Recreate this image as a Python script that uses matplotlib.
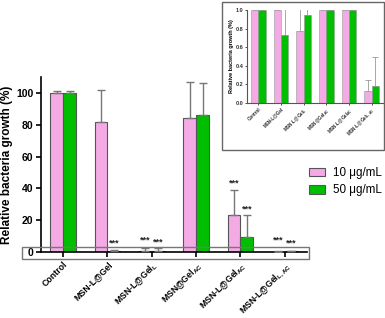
import matplotlib
matplotlib.use("Agg")
import matplotlib.pyplot as plt
from matplotlib.patches import Rectangle
import numpy as np

plt.rcParams['font.family'] = ['Liberation Sans', 'DejaVu Sans']
plt.rcParams['mathtext.fontset'] = 'custom'
plt.rcParams['mathtext.rm'] = 'Liberation Sans'
plt.rcParams['mathtext.bf'] = 'Liberation Sans:bold'

categories = ["Control", "MSN-L@Gel", r"MSN-L@Gel$_\mathbf{L}$", r"MSN@Gel$_\mathbf{AC}$",
              r"MSN-L@Gel$_\mathbf{AC}$", r"MSN-L@Gel$_\mathbf{L,AC}$"]
series_names = ["10 μg/mL", "50 μg/mL"]
vals_10 = [100, 81.5, 0.5, 84, 23.5, 0.2]
err_10 = [1, 20, 2, 23, 15.5, 0.2]
vals_50 = [100, 0.6, 0.5, 86, 9.5, 0.5]
err_50 = [1, 0.4, 1.8, 20, 13.5, 0.3]
stars_10 = [False, False, True, False, True, True]
stars_50 = [False, True, True, False, True, True]

inset_10 = [1.0, 1.0, 0.77, 1.0, 1.0, 0.13]
inset_err_10 = [0.3, 0.3, 0.3, 0.3, 0.3, 0.12]
inset_50 = [1.0, 0.73, 0.95, 1.0, 1.0, 0.18]
inset_err_50 = [0.3, 0.3, 0.3, 0.3, 0.3, 0.32]

pink = '#F4AAE4'
green = '#00BE00'
edge = '#555555'

fig = plt.figure(figsize=(3.85, 3.18), dpi=100)
ax = fig.add_axes([0.1065, 0.2075, 0.6905, 0.5505])
x = np.arange(len(categories))
w = 0.29
ax.bar(x - w/2, vals_10, w, color=pink, edgecolor=edge, linewidth=0.8, label=series_names[0], zorder=2)
ax.bar(x + w/2, vals_50, w, color=green, edgecolor=edge, linewidth=0.8, label=series_names[1], zorder=2)
ax.errorbar(x - w/2, vals_10, yerr=[np.zeros(6), err_10], fmt='none', ecolor='#777777',
            elinewidth=1, capsize=3, capthick=1, zorder=3)
ax.errorbar(x + w/2, vals_50, yerr=[np.zeros(6), err_50], fmt='none', ecolor='#777777',
            elinewidth=1, capsize=3, capthick=1, zorder=3)
for i in range(len(categories)):
    if stars_10[i]:
        ax.text(x[i] - w/2, max(vals_10[i] + err_10[i], 3) + 1.5, '***', ha='center', va='bottom',
                fontsize=6.5, fontweight='bold', color='#222222')
    if stars_50[i]:
        ax.text(x[i] + w/2, max(vals_50[i] + err_50[i], 2) + 1.0, '***', ha='center', va='bottom',
                fontsize=6.5, fontweight='bold', color='#222222')

ax.set_xlim(-0.5, 5.5)
ax.set_ylim(0, 110)
ax.set_yticks([0, 20, 40, 60, 80, 100])
ax.set_xticks(x)
ax.set_xticklabels(categories, rotation=45, ha='right', rotation_mode='anchor',
                   fontsize=6.3, fontweight='bold')
for lbl in ax.get_yticklabels():
    lbl.set_fontweight('bold')
    lbl.set_fontsize(7.5)
ax.spines['top'].set_visible(False)
ax.spines['right'].set_visible(False)
ax.spines['left'].set_linewidth(1.2)
ax.spines['bottom'].set_linewidth(1.2)
ax.tick_params(axis='both', width=1.2, length=3.5, pad=2)
ax.set_ylabel('Relative bacteria growth (%)', fontsize=8.5, fontweight='bold', labelpad=2)

rect = Rectangle((-0.93, -4.4), 6.48, 7.5, fill=False, edgecolor='#777777', linewidth=1.0,
                 clip_on=False, zorder=5)
ax.add_patch(rect)

leg = ax.legend(loc='upper left', bbox_to_anchor=(1.0075, 0.485), frameon=False, fontsize=8.4,
                handlelength=1.4, handleheight=0.75, handletextpad=0.7, labelspacing=0.45,
                borderaxespad=0, borderpad=0)

# inset
fig.add_artist(Rectangle((222/385, 1 - 150/318), (384 - 222)/385, (148)/318, fill=False,
                         edgecolor='#666666', linewidth=1.0, transform=fig.transFigure))
axi = fig.add_axes([247/385, 1 - 103/318, (383 - 247)/385, 93/318])
wi = 0.32
axi.bar(x - wi/2, inset_10, wi, color=pink, edgecolor='#999999', linewidth=0.4, zorder=2)
axi.bar(x + wi/2, inset_50, wi, color=green, edgecolor='#999999', linewidth=0.4, zorder=2)
axi.errorbar(x - wi/2, inset_10, yerr=[np.zeros(6), inset_err_10], fmt='none', ecolor='#999999',
             elinewidth=0.6, capsize=2, capthick=0.6, zorder=1)
axi.errorbar(x + wi/2, inset_50, yerr=[np.zeros(6), inset_err_50], fmt='none', ecolor='#999999',
             elinewidth=0.6, capsize=2, capthick=0.6, zorder=1)
axi.set_xlim(-0.5, 5.5)
axi.set_ylim(0, 1.0)
axi.set_yticks([0, 0.2, 0.4, 0.6, 0.8, 1.0])
axi.set_yticklabels(['0.0', '0.2', '0.4', '0.6', '0.8', '1.0'], fontsize=4, fontweight='bold')
axi.set_xticks(x)
axi.set_xticklabels(categories, rotation=45, ha='right', rotation_mode='anchor',
                    fontsize=3.3, fontweight='bold')
axi.spines['top'].set_visible(False)
axi.spines['right'].set_visible(False)
axi.spines['left'].set_color('#555555')
axi.spines['bottom'].set_color('#555555')
axi.tick_params(axis='both', width=0.6, length=1.5, pad=1, colors='#333333')
axi.set_ylabel('Relative bacteria growth (%)', fontsize=4, fontweight='bold', labelpad=1)

fig.savefig('out.png', dpi=100)
